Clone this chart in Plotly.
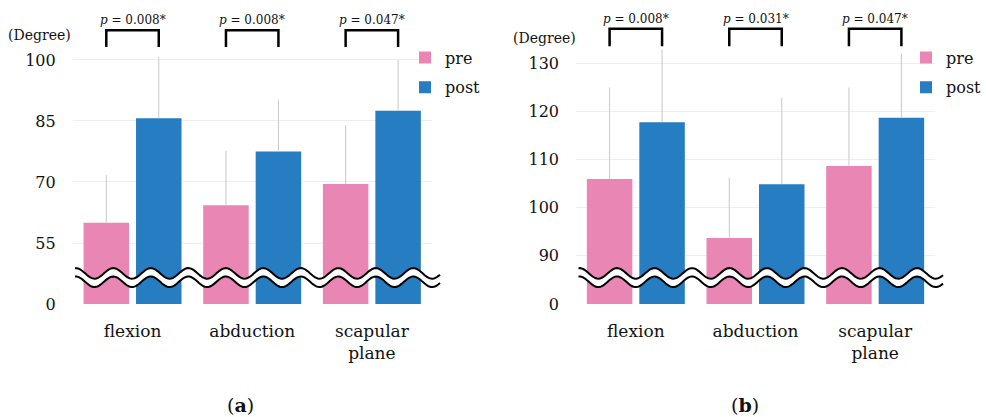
import numpy as np
import plotly.graph_objects as go

# ---------------- data ----------------
categories = ["flexion", "abduction", "scapular<br>plane"]

pre_a = [60.0, 64.3, 69.5]
post_a = [85.7, 77.5, 87.5]
pre_a_sd = [11.7, 13.4, 14.4]
post_a_sd = [15.0, 12.7, 12.5]

pre_b = [106.0, 93.7, 108.7]
post_b = [117.8, 104.9, 118.7]
pre_b_sd = [19.0, 12.5, 16.3]
post_b_sd = [15.1, 18.0, 13.4]

p_a = ["0.008*", "0.008*", "0.047*"]
p_b = ["0.008*", "0.031*", "0.047*"]

ticks_a_vals = [40, 55, 70, 85, 100]
ticks_a_text = ["0", "55", "70", "85", "100"]
ticks_b_vals = [80, 90, 100, 110, 120, 130]
ticks_b_text = ["0", "90", "100", "110", "120", "130"]

# ---------------- style ----------------
W, H = 986, 417
PINK = "#EA86B4"
BLUE = "#267DC2"
ERR = "#C9C9C9"
GRID = "#EEEEEE"
FONT = "DejaVu Serif"
BARGAP = 0.123
BARGROUPGAP = 0.133

dom_a = [72.7 / W, 431.7 / W]
dom_b = [576.0 / W, 935.0 / W]
dom_y = [1 - 304.0 / H, 1 - 5.0 / H]

fig = go.Figure()


def add_bars(pre, post, pre_sd, post_sd, xa, ya, leg):
    for name, vals, sd, col in (("pre", pre, pre_sd, PINK), ("post", post, post_sd, BLUE)):
        fig.add_trace(go.Bar(
            x=categories, y=vals, name=name, marker=dict(color=col, line=dict(width=0)),
            error_y=dict(type="data", array=sd, arrayminus=[0] * len(sd), symmetric=False,
                         width=0, thickness=1, color=ERR),
            xaxis=xa, yaxis=ya, legend=leg, legendgroup=leg + name,
        ))


add_bars(pre_a, post_a, pre_a_sd, post_a_sd, "x", "y", "legend")
add_bars(pre_b, post_b, pre_b_sd, post_b_sd, "x2", "y2", "legend2")

shapes = []
annotations = []

# significance brackets
off = (1 - BARGAP) / 4.0


def brackets(xref, yref, pvals, ytop, ylow):
    for i, p in enumerate(pvals):
        x0, x1 = i - off, i + off
        shapes.append(dict(type="path", xref=xref, yref=yref,
                           path=f"M{x0},{ylow} L{x0},{ytop} L{x1},{ytop} L{x1},{ylow}",
                           line=dict(color="black", width=2.5)))
        annotations.append(dict(x=i, y=ytop, xref=xref, yref=yref, yanchor="bottom",
                                xanchor="center", text=f"<i>p</i> = {p}", showarrow=False,
                                yshift=1, font=dict(family=FONT, size=12, color="#111")))


brackets("x", "y", p_a, 107.3, 103.2)
brackets("x2", "y2", p_b, 137.2, 133.6)


# axis break waves (decoration) in domain fractions
def wave(xref, yref, dom0_px, x_start_px, x_end_px, crest_px):
    domw = 359.0
    domh = 299.0
    xs = np.linspace(x_start_px, x_end_px, 240)
    base = -5.3 * np.cos(2 * np.pi * (xs - crest_px) / 37.5)
    top = 273.4 + base
    bot = 281.8 + base
    fx = (xs - dom0_px) / domw
    fyt = (304.0 - top) / domh
    fyb = (304.0 - bot) / domh
    pt = " L".join(f"{a:.5f},{b:.5f}" for a, b in zip(fx, fyt))
    pb = " L".join(f"{a:.5f},{b:.5f}" for a, b in zip(fx[::-1], fyb[::-1]))
    shapes.append(dict(type="path", xref=xref + " domain", yref=yref + " domain",
                       path=f"M{pt} L{pb} Z", fillcolor="white", line=dict(width=0), layer="above"))
    pb2 = " L".join(f"{a:.5f},{b:.5f}" for a, b in zip(fx, fyb))
    for pth in (pt, pb2):
        shapes.append(dict(type="path", xref=xref + " domain", yref=yref + " domain",
                           path=f"M{pth}", line=dict(color="black", width=2), layer="above"))


wave("x", "y", 72.7, 75.0, 440.0, 113.3)
wave("x2", "y2", 576.0, 578.5, 943.0, 617.0)

# unit labels and panel labels
for x_px, y_px, txt, size in ((39, 35, "(Degree)", 14), (544.5, 38, "(Degree)", 14),
                              (240, 405, "(<b>a</b>)", 19), (745, 405, "(<b>b</b>)", 19)):
    annotations.append(dict(x=x_px / W, y=1 - y_px / H, xref="paper", yref="paper", text=txt,
                            xanchor="center", yanchor="middle", showarrow=False,
                            font=dict(family=FONT, size=size, color="#111")))

xax = dict(showgrid=False, showline=False, zeroline=False, ticks="", automargin=False,
           tickfont=dict(family=FONT, size=17, color="#111"), ticklabelstandoff=15)
yax = dict(showgrid=True, gridcolor=GRID, gridwidth=1, showline=False, zeroline=False, ticks="",
           automargin=False, tickfont=dict(family=FONT, size=16, color="#111"),
           ticklabelstandoff=16)

legend_common = dict(font=dict(family=FONT, size=16, color="#111"), bgcolor="rgba(0,0,0,0)",
                     xanchor="left", yanchor="top", tracegroupgap=6, traceorder="grouped")

fig.update_layout(
    width=W, height=H, margin=dict(l=0, r=0, t=0, b=0, autoexpand=False),
    paper_bgcolor="white", plot_bgcolor="white",
    barmode="group", bargap=BARGAP, bargroupgap=BARGROUPGAP,
    xaxis=dict(domain=dom_a, anchor="y", **xax),
    yaxis=dict(domain=dom_y, anchor="x", range=[40, 113.52], tickvals=ticks_a_vals,
               ticktext=ticks_a_text, **yax),
    xaxis2=dict(domain=dom_b, anchor="y2", **xax),
    yaxis2=dict(domain=dom_y, anchor="x2", range=[80, 142.15], tickvals=ticks_b_vals,
                ticktext=ticks_b_text, **yax),
    legend=dict(x=405 / W, y=1 - 40.5 / H, **legend_common),
    legend2=dict(x=906 / W, y=1 - 40.5 / H, **legend_common),
    shapes=shapes, annotations=annotations,
    showlegend=True,
)

page_js = "document.documentElement.style.margin='0';document.body.style.margin='0';"

fig.write_html("out.html", config={"displayModeBar": False}, post_script=page_js)
